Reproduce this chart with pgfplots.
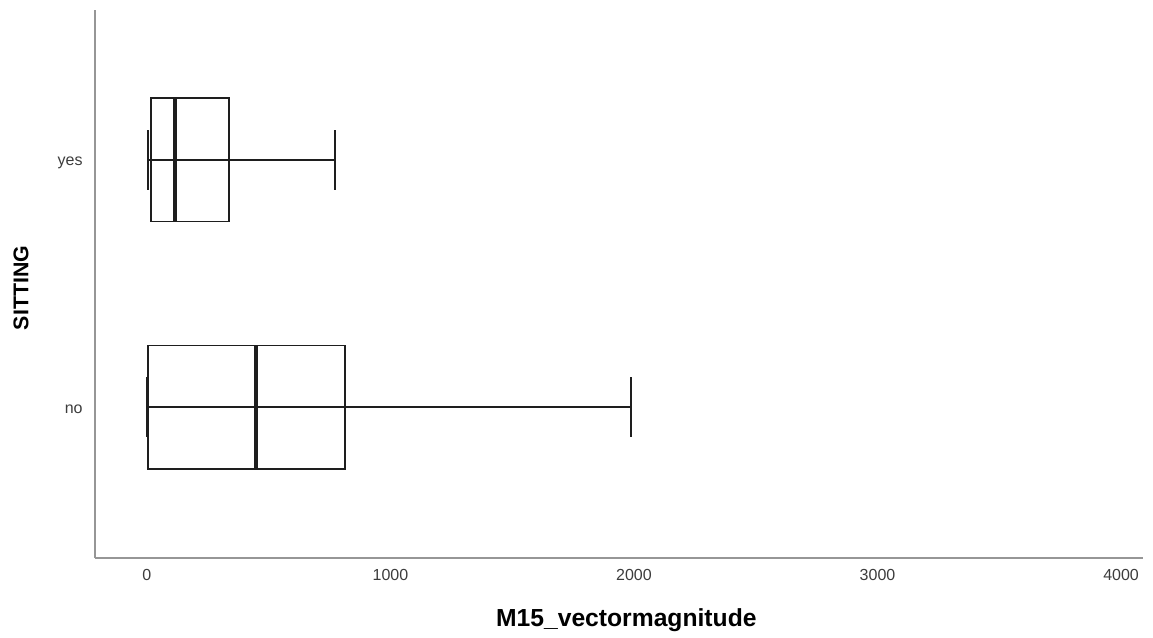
\documentclass[border=0pt]{standalone}
\usepackage{fontspec}
\setmainfont{Liberation Sans}
\usepackage{pgfplots}
\pgfplotsset{compat=1.18}
\usepgfplotslibrary{statistics}
\definecolor{axgray}{RGB}{150,150,150}
\definecolor{boxc}{RGB}{30,30,30}
\definecolor{txt}{RGB}{60,60,60}
\begin{document}
\begin{tikzpicture}
\begin{axis}[
  name=ax,
  scale only axis,
  width=786pt, height=411pt,
  xmin=-213, xmax=4090,
  ymin=0.389, ymax=2.607,
  axis lines*=left,
  axis line style={axgray, line width=1.5pt},
  separate axis lines,
  x axis line style={-}, y axis line style={-},
  xtick={0,1000,2000,3000,4000},
  ytick={1,2},
  yticklabels={no,yes},
  major tick length=0pt,
  /pgf/number format/assume math mode=true,
  /pgf/number format/1000 sep={},
  tick label style={font=\fontsize{12}{14}\selectfont, text=txt},
  xticklabel style={yshift=-5pt},
  yticklabel style={xshift=-5.75pt, yshift=-2pt},
  xlabel={M15\_vectormagnitude},
  ylabel={SITTING},
  xlabel style={at={(axis description cs:0.5,0)}, anchor=north, yshift=-34.75pt, xshift=5.5pt, font=\fontsize{18.5}{20}\selectfont\bfseries},
  ylabel style={at={([xshift=-55.5pt,yshift=-3pt]axis description cs:0,0.5)}, anchor=center, font=\fontsize{16}{18}\selectfont\bfseries},
  clip=false,
  boxplot/draw direction=x,
  boxplot/box extend=0.5,
  boxplot/whisker extend=0.24,
  boxplot/every median/.style={line width=2.6pt},
  boxplot/every box/.style={line width=1.1pt},
  boxplot/every whisker/.style={line width=1.1pt},
  boxplot/draw/lower whisker/.code={%
    \draw[/pgfplots/boxplot/every whisker/.try]
      (boxplot cs:\pgfplotsboxplotvalue{lower whisker}) --
      (boxplot cs:\pgfplotsboxplotvalue{median})
      (boxplot whisker cs:\pgfplotsboxplotvalue{lower whisker},0) --
      (boxplot whisker cs:\pgfplotsboxplotvalue{lower whisker},1);
  },
  boxplot/draw/upper whisker/.code={%
    \draw[/pgfplots/boxplot/every whisker/.try]
      (boxplot cs:\pgfplotsboxplotvalue{median}) --
      (boxplot cs:\pgfplotsboxplotvalue{upper whisker})
      (boxplot whisker cs:\pgfplotsboxplotvalue{upper whisker},0) --
      (boxplot whisker cs:\pgfplotsboxplotvalue{upper whisker},1);
  },
]
\addplot[boxc, boxplot prepared={
  draw position=1,
  lower whisker=0, lower quartile=4, median=448,
  upper quartile=813, upper whisker=1988}] coordinates {};
\addplot[boxc, boxplot prepared={
  draw position=2,
  lower whisker=4, lower quartile=16, median=115,
  upper quartile=337, upper whisker=772}] coordinates {};
\end{axis}
\useasboundingbox ([xshift=-71.25pt,yshift=-59.25pt]ax.south west) rectangle ([xshift=7.5pt,yshift=7.5pt]ax.north east);
\end{tikzpicture}
\end{document}
